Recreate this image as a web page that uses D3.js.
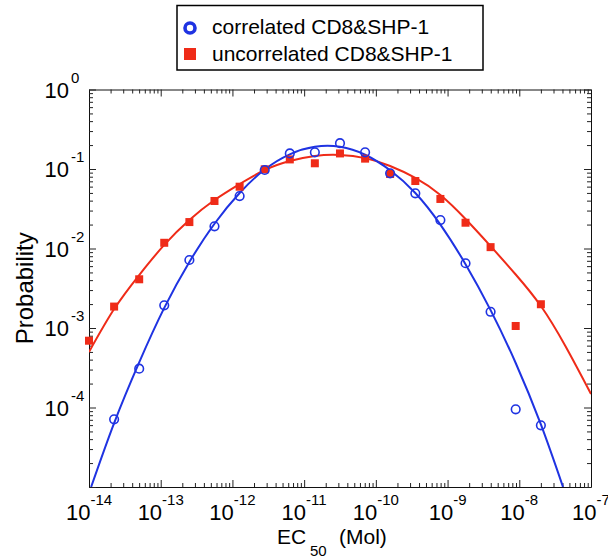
<!DOCTYPE html>
<html>
<head>
<meta charset="utf-8">
<script src="https://cdn.jsdelivr.net/npm/d3@7"></script>
<style>
  html, body { margin: 0; padding: 0; background: #fff; }
  svg { display: block; font-family: "Liberation Sans", Arial, Helvetica, sans-serif; }
</style>
</head>
<body>
<svg id="chart" width="608" height="560"></svg>
<script>
// ---------- data ----------
const ec50 = [1.00e-14, 2.24e-14, 5.01e-14, 1.12e-13, 2.51e-13, 5.62e-13, 1.26e-12, 2.82e-12,
              6.31e-12, 1.41e-11, 3.16e-11, 7.08e-11, 1.58e-10, 3.55e-10, 7.94e-10, 1.78e-9,
              3.98e-9, 8.91e-9, 2.00e-8];
const correlatedProb = [null, 7.11e-5, 3.08e-4, 1.93e-3, 7.17e-3, 1.90e-2, 4.57e-2, 9.71e-2,
              0.157, 0.162, 0.211, 0.162, 8.83e-2, 4.95e-2, 2.28e-2, 6.52e-3,
              1.60e-3, 9.49e-5, 5.97e-5];
const uncorrelatedProb = [6.92e-4, 1.86e-3, 4.10e-3, 1.18e-2, 2.15e-2, 3.96e-2, 5.99e-2, 9.91e-2,
              0.132, 0.118, 0.157, 0.135, 8.65e-2, 7.06e-2, 4.20e-2, 2.11e-2,
              1.04e-2, 1.06e-3, 1.99e-3];
// fitted curves
const corrFitX = [1.07e-14, 2.24e-14, 5.01e-14, 1.12e-13, 2.51e-13, 5.62e-13, 1.26e-12, 2.82e-12,
              6.31e-12, 1.41e-11, 3.16e-11, 7.08e-11, 1.58e-10, 3.55e-10, 7.94e-10, 1.78e-9,
              3.98e-9, 8.91e-9, 2.00e-8, 4.07e-8];
const corrFitY = [1.0e-5, 6.38e-5, 3.70e-4, 1.79e-3, 6.77e-3, 2.05e-2, 4.99e-2, 9.86e-2,
              0.153, 0.190, 0.190, 0.151, 9.63e-2, 4.99e-2, 2.00e-2, 6.35e-3,
              1.68e-3, 3.63e-4, 6.12e-5, 1.0e-5];
const uncorrFitX = [1.00e-14, 2.24e-14, 5.01e-14, 1.12e-13, 2.51e-13, 5.62e-13, 1.26e-12, 2.82e-12,
              6.31e-12, 1.41e-11, 3.16e-11, 7.08e-11, 1.58e-10, 3.55e-10, 7.94e-10, 1.78e-9,
              3.98e-9, 8.91e-9, 2.00e-8, 4.39e-8, 1.00e-7];
const uncorrFitY = [4.99e-4, 1.73e-3, 4.64e-3, 1.11e-2, 2.28e-2, 4.07e-2, 6.47e-2, 9.71e-2,
              0.126, 0.146, 0.150, 0.137, 0.109, 7.71e-2, 4.71e-2, 2.35e-2,
              1.07e-2, 4.71e-3, 1.89e-3, 5.94e-4, 1.48e-4];
const xTickExp = [-14, -13, -12, -11, -10, -9, -8, -7];
const yTickExp = [0, -1, -2, -3, -4];
const seriesNames = ["correlated CD8&SHP-1", "uncorrelated CD8&SHP-1"];

// ---------- layout ----------
const BLUE = "#1f33e2", RED = "#ef2b18";
const L = 89, R = 591, T = 89.5, B = 487;
const svg = d3.select("#chart");
const x = d3.scaleLog().domain([1e-14, 1e-7]).range([L, R]);
const y = d3.scaleLog().domain([1e-5, 1]).range([B, T]);

const majorX = d3.range(-14, -6).map(e => Math.pow(10, e));
const minorX = [];
for (let e = -14; e < -7; e++) for (let j = 2; j <= 9; j++) minorX.push(j * Math.pow(10, e));
const majorY = d3.range(-5, 1).map(e => Math.pow(10, e));
const minorY = [];
for (let e = -5; e < 0; e++) for (let j = 2; j <= 9; j++) minorY.push(j * Math.pow(10, e));

function axisGroup(axis, tx, ty, keepDomain) {
  const g = svg.append("g").attr("transform", `translate(${tx},${ty})`).call(axis);
  g.selectAll("text").remove();
  g.selectAll("line").attr("stroke", "#222");
  if (!keepDomain) g.select(".domain").remove(); else g.select(".domain").attr("stroke", "#111");
  return g;
}
// frame + inward ticks on all four sides
axisGroup(d3.axisBottom(x).tickValues(majorX).tickSizeInner(-7).tickSizeOuter(0), 0, B, true);
axisGroup(d3.axisBottom(x).tickValues(minorX).tickSizeInner(-4).tickSizeOuter(0), 0, B, false);
axisGroup(d3.axisTop(x).tickValues(majorX).tickSizeInner(-7).tickSizeOuter(0), 0, T, true);
axisGroup(d3.axisTop(x).tickValues(minorX).tickSizeInner(-4).tickSizeOuter(0), 0, T, false);
axisGroup(d3.axisLeft(y).tickValues(majorY).tickSizeInner(-7).tickSizeOuter(0), L, 0, true);
axisGroup(d3.axisLeft(y).tickValues(minorY).tickSizeInner(-4).tickSizeOuter(0), L, 0, false);
axisGroup(d3.axisRight(y).tickValues(majorY).tickSizeInner(-7).tickSizeOuter(0), R, 0, true);
axisGroup(d3.axisRight(y).tickValues(minorY).tickSizeInner(-4).tickSizeOuter(0), R, 0, false);

// tick labels (10^n)
const xl = svg.append("g").attr("fill", "#000");
xTickExp.forEach(e => {
  const t = xl.append("text").attr("x", x(Math.pow(10, e))).attr("y", 520)
    .attr("text-anchor", "middle").attr("font-size", 22);
  t.append("tspan").text("10");
  t.append("tspan").attr("dy", -15).attr("font-size", 15).text("-" + Math.abs(e));
});
const yl = svg.append("g").attr("fill", "#000");
yTickExp.forEach(e => {
  const py = y(Math.pow(10, e));
  yl.append("text").attr("x", 69).attr("y", py + 8).attr("text-anchor", "end")
    .attr("font-size", 22).text("10");
  yl.append("text").attr("x", 71).attr("y", py - 7).attr("text-anchor", "start")
    .attr("font-size", 15).text(e === 0 ? "0" : "-" + Math.abs(e));
});

// axis titles
svg.append("text").attr("x", 277).attr("y", 544).attr("font-size", 21).text("EC");
svg.append("text").attr("x", 310).attr("y", 556).attr("font-size", 15).text("50");
svg.append("text").attr("x", 339).attr("y", 544).attr("font-size", 21).text("(Mol)");
svg.append("text").attr("transform", `translate(33,${(T + B) / 2}) rotate(-90)`)
  .attr("text-anchor", "middle").attr("font-size", 24).text("Probability");

// clip for fit curves
svg.append("clipPath").attr("id", "plotclip").append("rect")
  .attr("x", L).attr("y", T).attr("width", R - L).attr("height", B - T);

const line = d3.line().x(d => x(d[0])).y(d => y(d[1])).curve(d3.curveNatural);
const plot = svg.append("g");
plot.append("path").attr("clip-path", "url(#plotclip)")
  .datum(uncorrFitX.map((v, i) => [v, uncorrFitY[i]]))
  .attr("d", line).attr("fill", "none").attr("stroke", RED).attr("stroke-width", 2);
plot.append("path").attr("clip-path", "url(#plotclip)")
  .datum(corrFitX.map((v, i) => [v, corrFitY[i]]))
  .attr("d", line).attr("fill", "none").attr("stroke", BLUE).attr("stroke-width", 2);

// markers
const sq = 8;
plot.append("g").selectAll("rect")
  .data(ec50.map((v, i) => [v, uncorrelatedProb[i]]).filter(d => d[1] != null))
  .join("rect")
  .attr("x", d => x(d[0]) - sq / 2).attr("y", d => y(d[1]) - sq / 2)
  .attr("width", sq).attr("height", sq).attr("fill", RED);
plot.append("g").selectAll("circle")
  .data(ec50.map((v, i) => [v, correlatedProb[i]]).filter(d => d[1] != null))
  .join("circle")
  .attr("cx", d => x(d[0])).attr("cy", d => y(d[1])).attr("r", 4.3)
  .attr("fill", "none").attr("stroke", BLUE).attr("stroke-width", 1.6);

// legend
const lg = svg.append("g");
lg.append("rect").attr("x", 177).attr("y", 5.5).attr("width", 306).attr("height", 64.5)
  .attr("fill", "#fff").attr("stroke", "#000").attr("stroke-width", 1.5);
lg.append("circle").attr("cx", 190).attr("cy", 28).attr("r", 5)
  .attr("fill", "none").attr("stroke", BLUE).attr("stroke-width", 3.6);
lg.append("rect").attr("x", 184).attr("y", 48).attr("width", 12).attr("height", 12).attr("fill", RED);
lg.append("text").attr("x", 212).attr("y", 34).attr("font-size", 21).text(seriesNames[0]);
lg.append("text").attr("x", 212).attr("y", 61).attr("font-size", 21).text(seriesNames[1]);
</script>
</body>
</html>
